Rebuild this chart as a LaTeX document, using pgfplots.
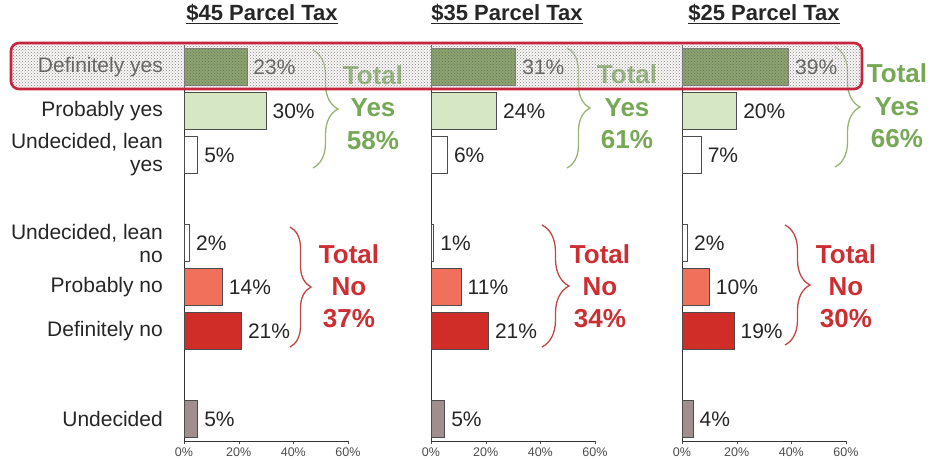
\documentclass[border=0pt]{standalone}
\usepackage{fontspec}
\setmainfont{Liberation Sans}
\usepackage{pgfplots}
\pgfplotsset{compat=1.18}
\usetikzlibrary{decorations.pathreplacing, patterns}

\definecolor{defyes}{RGB}{88,132,48}
\definecolor{probyes}{RGB}{214,231,198}
\definecolor{leanc}{RGB}{255,255,255}
\definecolor{probno}{RGB}{240,112,92}
\definecolor{defno}{RGB}{208,44,40}
\definecolor{undec}{RGB}{160,142,142}
\definecolor{totgreen}{RGB}{118,168,86}
\definecolor{bracegreen}{RGB}{150,180,115}
\definecolor{totred}{RGB}{204,46,50}
\definecolor{bracered}{RGB}{196,70,66}
\definecolor{boxred}{RGB}{196,36,60}

\pgfplotsset{
  /pgf/number format/assume math mode=true,
  panel/.style={
    scale only axis, width=164pt, height=396pt,
    xmin=0, xmax=60, ymin=-0.5, ymax=8.5,
    axis x line=bottom, axis y line=left,
    axis line style={-, black!80, line width=0.8pt},
    xtick={0,20,40,60},
    xticklabel={\fontsize{12.5}{13}\selectfont\pgfmathprintnumber{\tick}\%},
    xticklabel style={text=black!70, inner sep=1pt, yshift=-3pt},
    tick align=outside, major tick length=3pt,
    x tick style={black!70},
    clip=false,
    title style={anchor=base, yshift=19pt, font=\fontsize{22}{24}\selectfont\bfseries, text=black!85},
  },
  cbar/.style={
    xbar, bar width=37pt, bar shift=0pt,
    draw=black!70, line width=0.6pt, fill=#1,
    point meta=x,
    nodes near coords={\fontsize{21}{24}\selectfont\pgfmathprintnumber{\pgfplotspointmeta}\%},
    every node near coord/.append style={text=black!85, anchor=west, xshift=3pt},
  },
}

\newcommand{\tot}[5]{%
  \node[anchor=base, text=#3, font=\fontsize{26}{30}\selectfont\bfseries] at (#1pt,#2pt) {Total};
  \node[anchor=base, text=#3, font=\fontsize{26}{30}\selectfont\bfseries] at (#1pt,#2pt-32pt) {#4};
  \node[anchor=base, text=#3, font=\fontsize{26}{30}\selectfont\bfseries] at (#1pt,#2pt-64pt) {#5};
}

\begin{document}
\begin{tikzpicture}
\useasboundingbox (0pt,0pt) rectangle (932pt,459pt);

% ---------- $45 ----------
\begin{axis}[panel, at={(184pt,18pt)}, anchor=south west,
  title={\underline{\$45 Parcel Tax}}, title style={xshift=-4pt},
  ytick={0,2,3,4,6,7,8},
  yticklabels={Undecided, Definitely no, Probably no, {Undecided, lean\\no}, {Undecided, lean\\yes}, Probably yes, Definitely yes},
  y tick style={draw=none},
  yticklabel style={align=right, font=\fontsize{21}{23}\selectfont, text=black!85, inner sep=0pt, xshift=-18pt},
]
\addplot[cbar=defyes] coordinates {(23,8)};
\addplot[cbar=probyes] coordinates {(30,7)};
\addplot[cbar=leanc] coordinates {(5,6)};
\addplot[cbar=leanc] coordinates {(2,4)};
\addplot[cbar=probno] coordinates {(14,3)};
\addplot[cbar=defno] coordinates {(21,2)};
\addplot[cbar=undec] coordinates {(5,0)};
\end{axis}

% ---------- $35 ----------
\begin{axis}[panel, at={(431pt,18pt)}, anchor=south west,
  title={\underline{\$35 Parcel Tax}}, title style={xshift=-6pt},
  ytick=\empty,
]
\addplot[cbar=defyes] coordinates {(31,8)};
\addplot[cbar=probyes] coordinates {(24,7)};
\addplot[cbar=leanc] coordinates {(6,6)};
\addplot[cbar=leanc] coordinates {(1,4)};
\addplot[cbar=probno] coordinates {(11,3)};
\addplot[cbar=defno] coordinates {(21,2)};
\addplot[cbar=undec] coordinates {(5,0)};
\end{axis}

% ---------- $25 ----------
\begin{axis}[panel, at={(682pt,18pt)}, anchor=south west,
  title={\underline{\$25 Parcel Tax}},
  ytick=\empty,
]
\addplot[cbar=defyes] coordinates {(39,8)};
\addplot[cbar=probyes] coordinates {(20,7)};
\addplot[cbar=leanc] coordinates {(7,6)};
\addplot[cbar=leanc] coordinates {(2,4)};
\addplot[cbar=probno] coordinates {(10,3)};
\addplot[cbar=defno] coordinates {(19,2)};
\addplot[cbar=undec] coordinates {(4,0)};
\end{axis}

% ---------- braces ----------
\begin{scope}[line width=1.3pt]
\draw[bracegreen, decorate, decoration={brace, amplitude=25pt}] (313pt,409pt) -- (313pt,291pt);
\draw[bracegreen, decorate, decoration={brace, amplitude=23pt}] (567pt,411pt) -- (567pt,291pt);
\draw[bracegreen, decorate, decoration={brace, amplitude=25pt}] (835pt,412pt) -- (835pt,292pt);
\draw[bracered, decorate, decoration={brace, amplitude=21pt}] (290pt,232pt) -- (290pt,112pt);
\draw[bracered, decorate, decoration={brace, amplitude=27pt}] (542pt,234pt) -- (542pt,112pt);
\draw[bracered, decorate, decoration={brace, amplitude=25pt}] (785pt,234pt) -- (785pt,114pt);
\end{scope}

% ---------- totals ----------
\tot{373}{374}{totgreen}{Yes}{58\%}
\tot{627}{375}{totgreen}{Yes}{61\%}
\tot{897}{376}{totgreen}{Yes}{66\%}
\tot{349}{196}{totred}{No}{37\%}
\tot{600}{196}{totred}{No}{34\%}
\tot{846}{196}{totred}{No}{30\%}

% ---------- highlight box ----------
\fill[red!30!black!10, fill opacity=0.35, rounded corners=8pt] (11pt,370pt) rectangle (862pt,416pt);
\path[pattern=crosshatch dots, pattern color=black!65, fill opacity=0.75, rounded corners=8pt] (11pt,370pt) rectangle (862pt,416pt);
\draw[boxred, line width=2.6pt, rounded corners=8pt] (11pt,370pt) rectangle (862pt,416pt);
\end{tikzpicture}
\end{document}
